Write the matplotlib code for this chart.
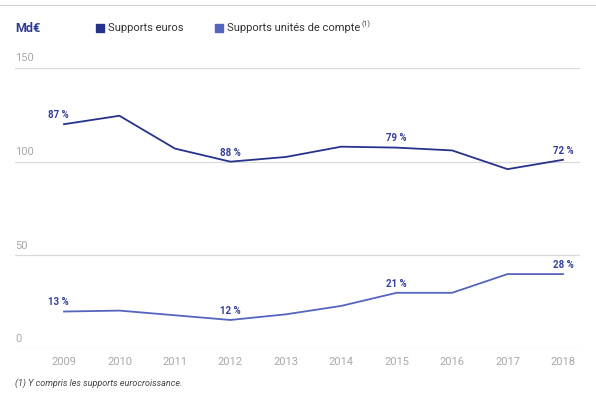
import matplotlib.pyplot as plt
from matplotlib.lines import Line2D
from matplotlib.patches import Rectangle

years = [2009, 2010, 2011, 2012, 2013, 2014, 2015, 2016, 2017, 2018]
supports_euros = [120, 124.5, 107, 100, 102.5, 108, 107.5, 106, 96, 101]
supports_uc = [20, 20.5, 18, 15.5, 18.5, 23, 30, 30, 40, 40]
y_ticks = [0, 50, 100, 150]

# share labels: (year, value, text)
labels_euros = [(2009, 120, "87 %"), (2012, 100, "88 %"), (2015, 107.5, "79 %"), (2018, 101, "72 %")]
labels_uc = [(2009, 20, "13 %"), (2012, 15.5, "12 %"), (2015, 30, "21 %"), (2018, 40, "28 %")]

DARK = "#26338c"
LIGHT = "#5565bd"
LABEL = "#33409a"
GREY = "#a8a8a8"
FONT = ["Roboto", "DejaVu Sans"]

plt.rcParams["font.family"] = FONT

fig = plt.figure(figsize=(5.96, 4.0), dpi=100)
fig.patch.set_facecolor("white")
ax = fig.add_axes([15 / 596, 0.1275, 565 / 596, 0.7025])
ax.set_xlim(2008.116, 2018.307)
ax.set_ylim(0, 150)

for t in y_ticks:
    ax.axhline(t, color="#dadada", linewidth=0.9, zorder=1)
    ax.text(0.0, t + 2.5, str(t), transform=ax.get_yaxis_transform(),
            ha="left", va="bottom", fontsize=8, color=GREY)

ax.plot(years, supports_euros, color=DARK, linewidth=1.3, zorder=3)
ax.plot(years, supports_uc, color=LIGHT, linewidth=1.3, zorder=3)

for x, v, s in labels_euros + labels_uc:
    dx = -0.1 if x == 2009 else 0.0
    ax.text(x + dx, v + 2.2, s, ha="center", va="bottom", fontsize=7,
            fontweight="bold", color=LABEL)

ax.set_xticks(years)
ax.set_xticklabels([str(y) for y in years], fontsize=8, color=GREY)
ax.tick_params(axis="x", length=0, pad=6)
ax.set_yticks([])
for sp in ax.spines.values():
    sp.set_visible(False)

# top rule
fig.add_artist(Line2D([0, 1], [0.988, 0.988], color="#d4d4d4", linewidth=0.9))

# header
fig.text(15 / 596, 1 - 28 / 400, "Md€", fontsize=9, fontweight="bold",
         color="#2c3a96", va="center", ha="left")
fig.add_artist(Rectangle((96 / 596, 1 - 32 / 400), 8 / 596, 8 / 400,
                         transform=fig.transFigure, color=DARK))
fig.text(108 / 596, 1 - 28 / 400, "Supports euros", fontsize=8,
         color="#333333", va="center", ha="left")
fig.add_artist(Rectangle((215 / 596, 1 - 32 / 400), 8 / 596, 8 / 400,
                         transform=fig.transFigure, color=LIGHT))
fig.text(227 / 596, 1 - 28 / 400, "Supports unités de compte", fontsize=8,
         color="#333333", va="center", ha="left")
fig.text(361 / 596, 1 - 24 / 400, "(1)", fontsize=5,
         color="#333333", va="center", ha="left")

fig.text(15 / 596, 1 - 383 / 400, "(1) Y compris les supports eurocroissance.",
         fontsize=6.5, style="italic", color="#444444", va="center", ha="left")

fig.savefig("out.png", dpi=100, facecolor="white")
